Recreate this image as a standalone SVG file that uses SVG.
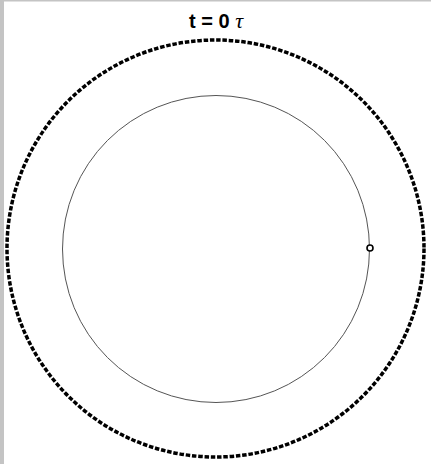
<svg xmlns="http://www.w3.org/2000/svg" width="431" height="464" viewBox="0 0 431 464">
<style>
.title{font-family:"Liberation Sans",Arial,sans-serif;font-size:20px;font-weight:bold;fill:#000}
.tau{font-family:"Liberation Serif","Times New Roman",serif;font-style:italic;font-weight:normal;font-size:22px}
</style>
<rect x="0" y="0" width="431" height="464" fill="#fff"/>
<rect x="0" y="0" width="4" height="464" fill="#c4c4c4"/>
<rect x="0" y="0" width="431" height="1.5" fill="#c4c4c4"/>
<g id="outer"><circle cx="215.5" cy="248.5" r="208.5" fill="none" stroke="#000" stroke-width="3.5" stroke-dasharray="4.5 1.8"/></g>
<g id="inner"><circle cx="216" cy="249" r="153.5" fill="none" stroke="#555" stroke-width="1"/></g>
<g id="point"><circle cx="370" cy="248" r="3" fill="#fff" stroke="#000" stroke-width="1.6"/></g>
<g id="title"><text class="title" x="216" y="28" text-anchor="middle">t = 0 <tspan class="tau">τ</tspan></text></g>
</svg>
